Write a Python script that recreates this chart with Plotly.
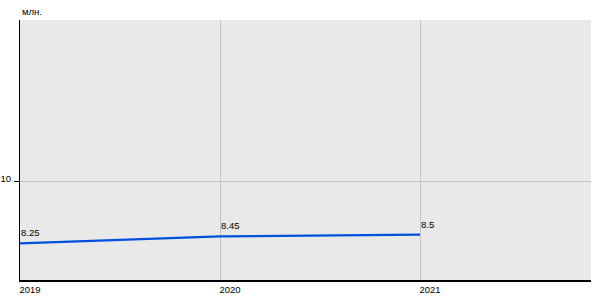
import plotly.graph_objects as go

years = [2019, 2020, 2021]
values = [8.25, 8.45, 8.5]
labels = ["8.25", "8.45", "8.5"]
y_ticks = [10]
y_tick_labels = ["10"]
x_ticks = [2019, 2020, 2021]
x_tick_labels = ["2019", "2020", "2021"]
unit_label = "млн."

FONT = "Liberation Sans, Arial"

fig = go.Figure()
fig.add_trace(go.Scatter(
    x=years, y=values, mode="lines",
    line=dict(color="#0050E0", width=2.2),
    hoverinfo="skip",
))

annotations = [dict(
    x=xv, y=yv, text=t, xref="x", yref="y",
    xanchor="left", yanchor="bottom", yshift=3, xshift=-1,
    showarrow=False, font=dict(family=FONT, size=9.5, color="#000000"),
) for xv, yv, t in zip(years, values, labels)]

annotations.append(dict(
    text=unit_label, xref="paper", yref="paper", x=0, y=1,
    xanchor="left", yanchor="bottom", yshift=1, showarrow=False,
    font=dict(family=FONT, size=9.5, color="#000000"),
))

fig.update_layout(
    width=600, height=300,
    margin=dict(l=20, r=9, t=20, b=20),
    paper_bgcolor="#ffffff", plot_bgcolor="#e9e9e9",
    showlegend=False,
    font=dict(family=FONT, size=9.5, color="#000000"),
    xaxis=dict(
        range=[2019, 2021.855], tickvals=x_ticks, ticktext=x_tick_labels,
        showgrid=True, gridcolor="#c4c4c4", gridwidth=1,
        showline=True, linecolor="#000000", linewidth=1.5,
        ticks="", ticklabelshift=10, ticklabelstandoff=0,
        zeroline=False, fixedrange=True, automargin=False,
    ),
    yaxis=dict(
        range=[7.21, 14.61], tickvals=y_ticks, ticktext=y_tick_labels,
        showgrid=True, gridcolor="#c4c4c4", gridwidth=1,
        showline=True, linecolor="#000000", linewidth=1.2,
        ticks="outside", ticklen=5, tickcolor="#000000", tickwidth=1,
        ticklabelstandoff=1, ticklabelshift=-3,
        zeroline=False, fixedrange=True, automargin=False,
    ),
    annotations=annotations,
)

fig.write_html("out.html")
